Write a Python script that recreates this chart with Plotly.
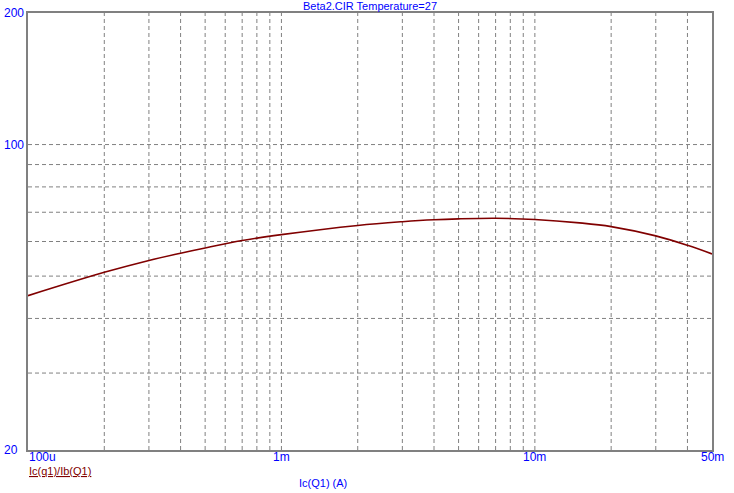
import numpy as np
import plotly.graph_objects as go

# Collector current Ic(Q1) in A and beta = Ic/Ib
ic = [1e-4, 2e-4, 3e-4, 4e-4, 5e-4, 7e-4, 1e-3, 2e-3, 3e-3, 4e-3, 5e-3, 7e-3,
      1e-2, 1.5e-2, 2e-2, 3e-2, 4e-2, 5e-2]
beta = [45.1, 51.0, 54.3, 56.4, 58.0, 60.3, 62.2, 65.3, 66.6, 67.3, 67.6, 67.8,
        67.4, 66.2, 64.9, 61.8, 58.8, 56.2]

x_grid = [2e-4, 3e-4, 4e-4, 5e-4, 6e-4, 7e-4, 8e-4, 9e-4, 1e-3, 2e-3, 3e-3, 4e-3,
          5e-3, 6e-3, 7e-3, 8e-3, 9e-3, 1e-2, 2e-2, 3e-2, 4e-2]
y_grid = [30, 40, 50, 60, 70, 80, 90, 100]

x_tick_vals = [1e-4, 1e-3, 1e-2, 5e-2]
x_tick_text = ["100u", "1m", "10m", "50m"]
y_tick_vals = [200, 100, 20]
y_tick_text = ["200", "100", "20"]

title_text = "Beta2.CIR Temperature=27"
trace_label = "Ic(q1)/Ib(Q1)"
x_title = "Ic(Q1) (A)"

FONT = "Liberation Sans, Arial, sans-serif"
BLUE = "#0000FF"
GRAY = "#808080"

fig = go.Figure()
fig.add_trace(go.Scatter(x=ic, y=beta, mode="lines",
                         line=dict(color="#800000", width=1.6, shape="spline", smoothing=1.0),
                         showlegend=False, hoverinfo="skip"))

shapes = []
for xv in x_grid:
    shapes.append(dict(type="line", xref="x", yref="paper", x0=xv, x1=xv, y0=0, y1=1,
                       line=dict(color=GRAY, width=1, dash="4px,3px"), layer="below"))
for yv in y_grid:
    shapes.append(dict(type="line", xref="paper", yref="y", x0=0, x1=1, y0=yv, y1=yv,
                       line=dict(color=GRAY, width=1, dash="4px,3px"), layer="below"))

annotations = []
for v, t in zip(y_tick_vals, y_tick_text):
    annotations.append(dict(x=-26 / 684, xref="paper", y=np.log10(v), yref="y",
                            text=t, showarrow=False, xanchor="left", yanchor="middle",
                            font=dict(family=FONT, size=12, color=BLUE)))
for i, (v, t) in enumerate(zip(x_tick_vals, x_tick_text)):
    annotations.append(dict(x=np.log10(v), xref="x", y=-7 / 437, yref="paper",
                            text=t, showarrow=False,
                            xanchor="left" if i == 0 else "center", yanchor="middle",
                            xshift=-1 if i == 0 else 0,
                            font=dict(family=FONT, size=12, color=BLUE)))
annotations.append(dict(x=0, xref="paper", y=-21 / 437, yref="paper",
                        text="<u>" + trace_label + "</u>", showarrow=False,
                        xanchor="left", yanchor="middle", xshift=-1,
                        font=dict(family=FONT, size=11, color="#800000")))
annotations.append(dict(x=(297 - 28) / 684, xref="paper", y=-33 / 437, yref="paper",
                        text=x_title, showarrow=False, xanchor="left", yanchor="middle",
                        font=dict(family=FONT, size=11, color=BLUE)))
annotations.append(dict(x=0.5, xref="paper", y=1, yref="paper", yshift=7,
                        text=title_text, showarrow=False, xanchor="center", yanchor="middle",
                        font=dict(family=FONT, size=11, color=BLUE)))

fig.update_layout(
    width=734, height=493,
    margin=dict(l=28, r=22, t=13, b=43),
    paper_bgcolor="white", plot_bgcolor="white",
    shapes=shapes, annotations=annotations,
    xaxis=dict(type="log", range=[np.log10(1e-4), np.log10(5e-2)],
               showgrid=False, zeroline=False, showticklabels=False, ticks="",
               showline=True, mirror=True, linecolor=GRAY, linewidth=2),
    yaxis=dict(type="log", range=[np.log10(20), np.log10(200)],
               showgrid=False, zeroline=False, showticklabels=False, ticks="",
               showline=True, mirror=True, linecolor=GRAY, linewidth=2),
)

fig.write_html("out.html")
